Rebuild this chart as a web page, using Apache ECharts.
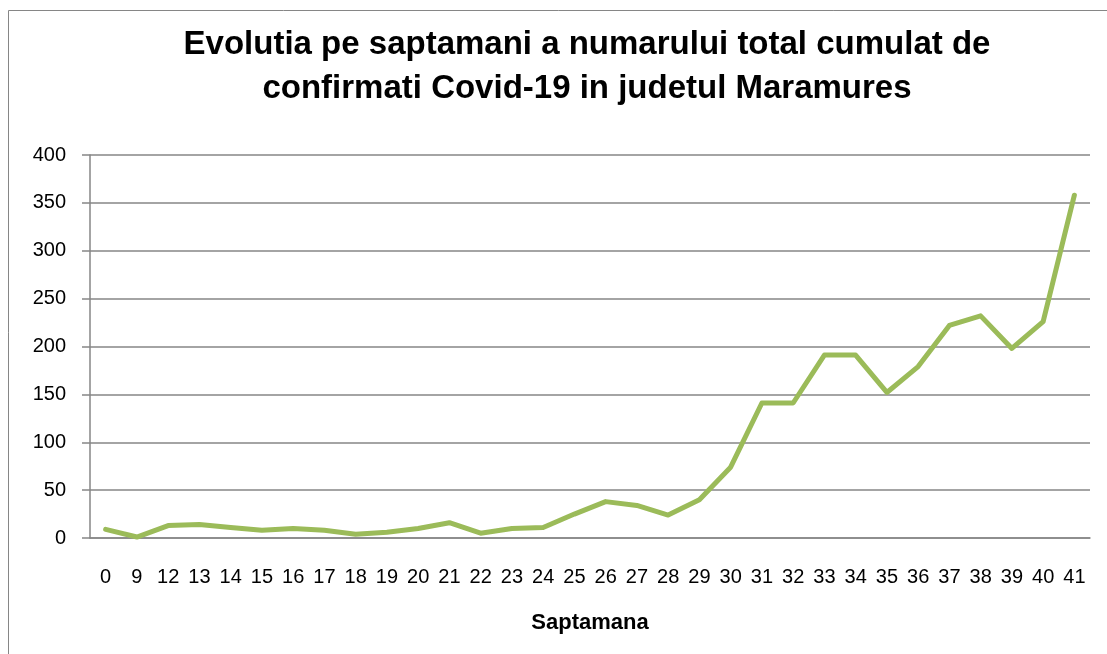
<!DOCTYPE html>
<html>
<head>
<meta charset="utf-8">
<script src="https://cdn.jsdelivr.net/npm/echarts@6/dist/echarts.min.js"></script>
<style>
  html, body { margin: 0; padding: 0; background: #fff; }
  #chart { width: 1107px; height: 654px; }
</style>
</head>
<body>
<div id="chart"></div>
<script>
// saptamana (week numbers)
var weeks = ["0", "9", "12", "13", "14", "15", "16", "17", "18", "19", "20",
  "21", "22", "23", "24", "25", "26", "27", "28", "29", "30",
  "31", "32", "33", "34", "35", "36", "37", "38", "39", "40", "41"];
// total cumulat confirmati
var cases = [9, 1, 13, 14, 11, 8, 10, 8, 4, 6, 10,
  16, 5, 10, 11, 25, 38, 34, 24, 40, 74,
  141, 141, 191, 191, 152, 179, 222, 232, 198, 226, 358];
var yTicks = { min: 0, max: 400, step: 50 };

var chart = echarts.init(document.getElementById("chart"));
var gray = "#868686";
chart.setOption({
  animation: false,
  backgroundColor: "#fff",
  title: {
    text: "Evolutia pe saptamani a numarului total cumulat de\nconfirmati Covid-19 in judetul Maramures",
    left: 582,
    textAlign: "center",
    top: 18,
    textStyle: {
      fontFamily: "Liberation Sans",
      fontWeight: "bold",
      fontSize: 33,
      lineHeight: 44,
      color: "#000"
    }
  },
  graphic: [{
    type: "rect",
    shape: { x: 8.5, y: 10.5, width: 1200, height: 700 },
    style: { fill: "none", stroke: gray, lineWidth: 1 }
  }],
  grid: { left: 90, right: 17, top: 155, bottom: 116 },
  xAxis: {
    type: "category",
    data: weeks,
    name: "Saptamana",
    nameLocation: "middle",
    nameGap: 74,
    nameTextStyle: { fontFamily: "Liberation Sans", fontWeight: "bold", fontSize: 22, color: "#000" },
    axisLine: { lineStyle: { color: gray, width: 1.5 } },
    axisTick: { length: 8, lineStyle: { color: gray, width: 1.5 } },
    axisLabel: { interval: 0, margin: 29, fontFamily: "Liberation Sans", fontSize: 20, color: "#000" }
  },
  yAxis: {
    type: "value",
    min: yTicks.min,
    max: yTicks.max,
    interval: yTicks.step,
    axisLine: { show: true, lineStyle: { color: gray, width: 1.5 } },
    axisTick: { show: true, length: 8, lineStyle: { color: gray, width: 1.5 } },
    axisLabel: { margin: 24, fontFamily: "Liberation Sans", fontSize: 20, color: "#000" },
    splitLine: { lineStyle: { color: gray, width: 1.5 } }
  },
  series: [{
    type: "line",
    data: cases,
    symbol: "none",
    lineStyle: { color: "#9BBB59", width: 5, cap: "round", join: "round" }
  }]
});
</script>
</body>
</html>
